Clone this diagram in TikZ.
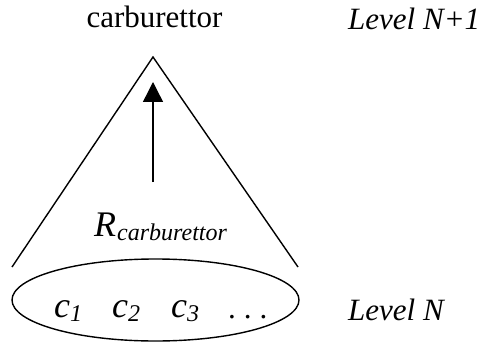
\documentclass[tikz,border=0pt]{standalone}
\usepackage{fontspec}
\setmainfont{Liberation Serif}
\usetikzlibrary{arrows.meta,shapes.geometric}
\begin{document}
\begin{tikzpicture}[x=1pt,y=-1pt,
  line/.style={line width=1.4pt},
  lbl/.style={inner sep=0pt, anchor=base, font=\fontsize{31}{36}\selectfont},
  cvar/.style={inner sep=0pt, anchor=base west, font=\fontsize{36}{40}\selectfont\itshape}]
\useasboundingbox (0,0) rectangle (484,342);
\coordinate (apex) at (153,57);
\coordinate (lfoot) at (12,267);
\coordinate (rfoot) at (298,267);
\draw[line] (lfoot) -- (apex) -- (rfoot);
\node[draw, line width=1.4pt, ellipse, minimum width=287pt, minimum height=82pt, inner sep=0pt] (ell) at (155.5,300) {};
\coordinate (abot) at (153,182);
\coordinate (atop) at (153,82);
\draw[line, -{Triangle[width=20pt,length=20pt]}] (abot) -- (atop);
\node[lbl] (top) at (154.5,28) {carburettor};
\node[lbl, anchor=base west] (lvl1) at (348,30) {\itshape Level N+1};
\node[lbl, anchor=base west] (lvl0) at (348,320) {\itshape Level N};
\node[cvar] (R) at (94,236) {R\hspace{1pt}\raisebox{-4.5pt}{\fontsize{24}{26}\selectfont carburettor}};
\node[cvar] (c1) at (54,317) {c\raisebox{-4pt}{\fontsize{24}{26}\selectfont 1}};
\node[cvar] (c2) at (112,317) {c\raisebox{-4pt}{\fontsize{24}{26}\selectfont 2}};
\node[cvar] (c3) at (171,317) {c\raisebox{-4pt}{\fontsize{24}{26}\selectfont 3}};
\node[lbl, anchor=base west] (dots) at (228,318) {.\hspace{8pt}.\hspace{8pt}.};
\end{tikzpicture}
\end{document}
